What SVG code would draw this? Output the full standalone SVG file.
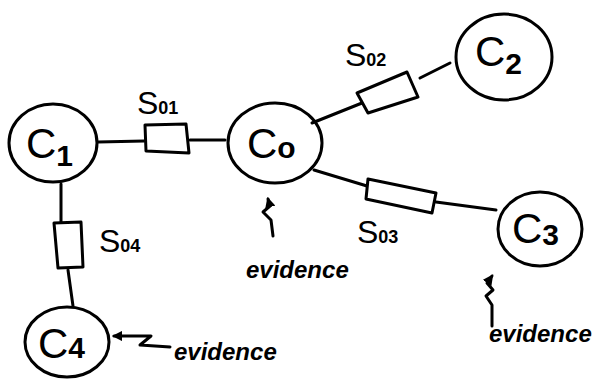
<svg xmlns="http://www.w3.org/2000/svg" width="613" height="380" viewBox="0 0 613 380">
  <style>
    .ink { fill: none; stroke: #000; stroke-width: 3; stroke-linecap: round; stroke-linejoin: round; }
    .box { fill: #fff; stroke: #000; stroke-width: 3; stroke-linejoin: round; }
    .lbl { font-family: "Liberation Sans", "DejaVu Sans", sans-serif; fill: #000; }
    .cname { font-size: 42px; }
    .cidx { font-size: 30px; font-weight: bold; }
    .sname { font-size: 32px; }
    .sidx { font-size: 18px; font-weight: bold; }
    .ev { font-family: "Liberation Sans", "DejaVu Sans", sans-serif; font-size: 24px; font-style: italic; font-weight: bold; fill: #000; }
  </style>
  <defs>
    <marker id="tip" viewBox="0 0 10 10" refX="8" refY="5" markerWidth="3.5" markerHeight="3.5" orient="auto">
      <path d="M0,0 L10,5 L0,10 Z" fill="#000"/>
    </marker>
  </defs>
  <rect width="613" height="380" fill="#fff"/>

  <!-- wires between cells and coupling elements -->
  <g id="connectors">
    <path class="ink" d="M98,142 L144,141"/>
    <path class="ink" d="M190,140 L225,140"/>
    <path class="ink" d="M312,123 L362,103"/>
    <path class="ink" d="M420,78 L450,63"/>
    <path class="ink" d="M314,170 L367,186"/>
    <path class="ink" d="M436,202 L496,210"/>
    <path class="ink" d="M61,184 L61,222"/>
    <path class="ink" d="M68,270 L73,306"/>
  </g>

  <!-- cells -->
  <g id="C0">
    <ellipse class="ink" cx="275" cy="143" rx="47" ry="40"/>
    <text class="lbl cname" x="247" y="158">C<tspan class="cidx">o</tspan></text>
  </g>
  <g id="C1">
    <ellipse class="ink" cx="53" cy="143" rx="44" ry="39"/>
    <text class="lbl cname" x="26" y="158">C<tspan class="cidx" dy="8">1</tspan></text>
  </g>
  <g id="C2">
    <ellipse class="ink" cx="504" cy="57" rx="48" ry="43"/>
    <text class="lbl cname" x="475" y="66">C<tspan class="cidx" dy="8">2</tspan></text>
  </g>
  <g id="C3">
    <ellipse class="ink" cx="540" cy="229" rx="42" ry="37"/>
    <text class="lbl cname" x="512" y="243">C<tspan class="cidx" dy="2">3</tspan></text>
  </g>
  <g id="C4">
    <ellipse class="ink" cx="67" cy="342" rx="42" ry="35"/>
    <text class="lbl cname" x="38" y="358">C<tspan class="cidx">4</tspan></text>
  </g>

  <!-- coupling elements -->
  <g id="S01">
    <path class="box" d="M145,125 L186,124 L189,153 L146,151 Z"/>
    <text class="lbl sname" x="137" y="114">S<tspan class="sidx">01</tspan></text>
  </g>
  <g id="S02">
    <path class="box" d="M357,93 L407,72 L418,97 L368,113 Z"/>
    <text class="lbl sname" x="345" y="66">S<tspan class="sidx">02</tspan></text>
  </g>
  <g id="S03">
    <path class="box" d="M368,179 L436,193 L432,213 L366,199 Z"/>
    <text class="lbl sname" x="357" y="243">S<tspan class="sidx">03</tspan></text>
  </g>
  <g id="S04">
    <path class="box" d="M54,223 L81,222 L83,267 L58,268 Z"/>
    <text class="lbl sname" x="99" y="252">S<tspan class="sidx">04</tspan></text>
  </g>

  <!-- evidence inputs -->
  <g id="E0">
    <path class="ink" d="M273,236 L271,220 L263,212 L270,206 L268,199" marker-end="url(#tip)"/>
    <text class="ev" x="246" y="278">evidence</text>
  </g>
  <g id="E3">
    <path class="ink" d="M492,326 L492,305 L486,296 L493,290 L487,283 L492,276" marker-end="url(#tip)"/>
    <text class="ev" x="489" y="342">evidence</text>
  </g>
  <g id="E4">
    <path class="ink" d="M170,347 L140,345 L151,336 L138,336 L114,336" marker-end="url(#tip)"/>
    <text class="ev" x="174" y="360">evidence</text>
  </g>
</svg>
